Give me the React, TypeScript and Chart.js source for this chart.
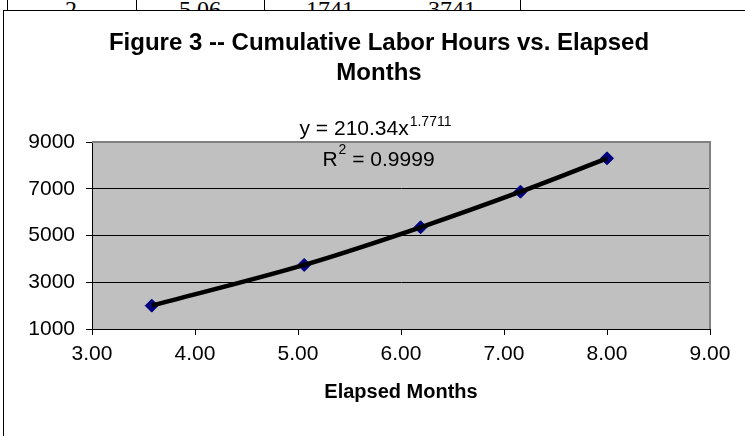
import React, { useEffect, useRef } from "react";
import { Chart, registerables } from "chart.js";

Chart.register(...registerables);

// ---- data ----
const elapsedMonths = [3.58, 5.06, 6.19, 7.16, 8.0];
const cumulativeHours = [2000, 3741, 5351, 6874, 8302];
const titleLines = ["Figure 3 -- Cumulative Labor Hours vs. Elapsed", "Months"];
const xAxisTitle = "Elapsed Months";
const xRange = [3, 9];
const xStep = 1;
const yRange = [1000, 9000];
const yStep = 2000;
const equationMain = "y = 210.34x";
const equationExp = "1.7711";
const rSquaredBase = "R";
const rSquaredExp = "2";
const rSquaredRest = " = 0.9999";
const tableFragment = ["2", "5.06", "1741", "3741"];

const FONT = "'Liberation Sans', Arial, Helvetica, sans-serif";

const overlayPlugin = {
  id: "overlay",
  beforeDraw(chart: any) {
    const { ctx, chartArea: a } = chart;
    ctx.save();
    ctx.fillStyle = "#C0C0C0";
    ctx.fillRect(a.left, a.top, a.right - a.left, a.bottom - a.top);
    ctx.restore();
  },
  beforeDatasetsDraw(chart: any) {
    const { ctx, chartArea: a } = chart;
    ctx.save();
    ctx.strokeStyle = "#808080";
    ctx.lineWidth = 2;
    ctx.beginPath();
    ctx.moveTo(a.left, a.top);
    ctx.lineTo(a.right, a.top);
    ctx.lineTo(a.right, a.bottom);
    ctx.stroke();
    ctx.restore();
  },
  afterDraw(chart: any) {
    const { ctx } = chart;
    ctx.save();
    ctx.fillStyle = "#000";
    // title
    ctx.font = `bold 24px ${FONT}`;
    ctx.textAlign = "center";
    ctx.textBaseline = "middle";
    ctx.fillText(titleLines[0], 379, 43);
    ctx.fillText(titleLines[1], 379, 73);

    // trendline equation
    ctx.textAlign = "left";
    ctx.textBaseline = "alphabetic";
    const cx = 375;
    ctx.font = `21px ${FONT}`;
    const w1 = ctx.measureText(equationMain).width;
    ctx.font = `14px ${FONT}`;
    const w2 = ctx.measureText(equationExp).width;
    let x0 = cx - (w1 + w2) / 2;
    ctx.font = `21px ${FONT}`;
    ctx.fillText(equationMain, x0, 135);
    ctx.font = `14px ${FONT}`;
    ctx.fillText(equationExp, x0 + w1 + 1, 126);

    ctx.font = `21px ${FONT}`;
    const r1 = ctx.measureText(rSquaredBase).width;
    const r3 = ctx.measureText(rSquaredRest).width;
    ctx.font = `14px ${FONT}`;
    const r2 = ctx.measureText(rSquaredExp).width;
    x0 = cx + 3 - (r1 + r2 + r3) / 2;
    ctx.font = `21px ${FONT}`;
    ctx.fillText(rSquaredBase, x0, 166);
    ctx.font = `14px ${FONT}`;
    ctx.fillText(rSquaredExp, x0 + r1 + 1, 154);
    ctx.font = `21px ${FONT}`;
    ctx.fillText(rSquaredRest, x0 + r1 + r2 + 1, 166);
    ctx.restore();
  },
};

export default function App() {
  const ref = useRef<HTMLCanvasElement | null>(null);

  useEffect(() => {
    document.body.style.margin = "0";
    const canvas = ref.current;
    if (!canvas) return;
    const pts = elapsedMonths.map((x, i) => ({ x, y: cumulativeHours[i] }));
    Chart.defaults.font.family = FONT;
    const chart = new Chart(canvas, {
      type: "scatter",
      data: {
        datasets: [
          {
            type: "line",
            data: pts,
            borderColor: "#000",
            borderWidth: 4.5,
            pointRadius: 0,
            cubicInterpolationMode: "monotone",
            fill: false,
            order: 0,
          } as any,
          {
            type: "scatter",
            data: pts,
            pointStyle: "rectRot",
            pointRadius: 6.5,
            pointHoverRadius: 6.5,
            backgroundColor: "#000080",
            borderColor: "#000080",
            borderWidth: 1,
            order: 1,
          } as any,
        ],
      },
      options: {
        responsive: false,
        animation: false,
        events: [],
        layout: { padding: { left: 0, right: 35, top: 142, bottom: 0 } },
        plugins: {
          legend: { display: false },
          tooltip: { enabled: false },
          title: { display: false },
        },
        scales: {
          x: {
            type: "linear",
            min: xRange[0],
            max: xRange[1],
            afterFit(s: any) {
              s.height = 107;
            },
            ticks: {
              stepSize: xStep,
              callback: (v: any) => Number(v).toFixed(2),
              font: { size: 21 },
              color: "#000",
              padding: 7,
              maxRotation: 0,
              autoSkip: false,
            },
            grid: { drawOnChartArea: false, drawTicks: true, tickLength: 6, color: "#000" },
            border: { display: true, color: "#000", width: 1 },
            title: {
              display: true,
              text: xAxisTitle,
              color: "#000",
              font: { size: 20, weight: "bold" },
              padding: { top: 0, bottom: 32 },
            },
          },
          y: {
            type: "linear",
            min: yRange[0],
            max: yRange[1],
            afterFit(s: any) {
              s.width = 92;
            },
            ticks: {
              stepSize: yStep,
              callback: (v: any) => String(v),
              font: { size: 21 },
              color: "#000",
              padding: 11,
            },
            grid: { color: "#000", tickLength: 6, lineWidth: 1 },
            border: { display: true, color: "#000", width: 1 },
          },
        },
      } as any,
      plugins: [overlayPlugin],
    });
    return () => chart.destroy();
  }, []);

  const cellCenters = [71, 200, 330, 452];
  const tableLines = [7, 136, 264, 520];

  return (
    <div style={{ position: "relative", width: 745, height: 436, overflow: "hidden", background: "#fff" }}>
      {tableFragment.map((t, i) => (
        <span
          key={"t" + i}
          style={{
            position: "absolute",
            left: cellCenters[i],
            top: -3,
            transform: "translateX(-50%)",
            fontFamily: "'Liberation Serif', 'Times New Roman', serif",
            fontSize: 24,
            lineHeight: "24px",
            color: "#000",
            whiteSpace: "nowrap",
          }}
        >
          {t}
        </span>
      ))}
      {tableLines.map((x, i) => (
        <div key={"l" + i} style={{ position: "absolute", left: x, top: 0, width: 1, height: 11, background: "#000" }} />
      ))}
      <div
        style={{
          position: "absolute",
          left: 3,
          top: 10,
          width: 800,
          height: 500,
          borderLeft: "1px solid #000",
          borderTop: "1px solid #000",
          background: "#fff",
        }}
      />
      <canvas
        ref={ref}
        width={745}
        height={436}
        style={{ position: "absolute", left: 0, top: 0, display: "block" }}
      />
    </div>
  );
}
